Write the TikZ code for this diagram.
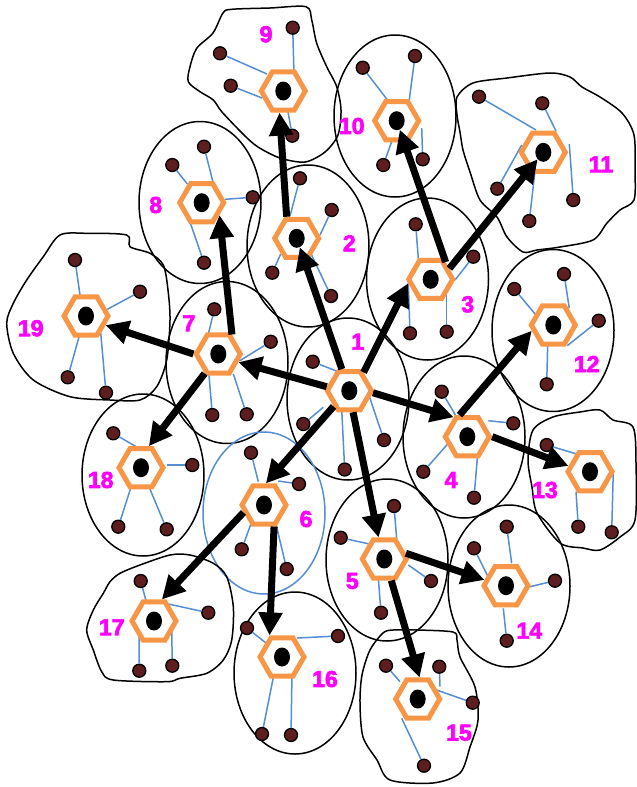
\documentclass[tikz,border=0pt]{standalone}
\usepackage{fontspec}
\newfontfamily\labfont{Liberation Sans}[BoldFeatures={FakeBold=3}]
\usetikzlibrary{shapes.geometric,arrows.meta}
\definecolor{hexor}{HTML}{F79646}
\definecolor{spokeb}{HTML}{558ED5}
\definecolor{dotred}{HTML}{5C1E1E}
\definecolor{labmag}{HTML}{FF00FF}
\tikzset{
 hexn/.style={regular polygon, regular polygon sides=6, minimum size=44pt, inner sep=0pt, draw=hexor, line width=5pt, fill=white},
 coren/.style={ellipse, fill=black, minimum width=16pt, minimum height=19pt, inner sep=0pt},
 dotn/.style={circle, fill=dotred, draw=black, line width=1.3pt, minimum size=13pt, inner sep=0pt},
 spoke/.style={draw=spokeb, line width=1.5pt},
 outl/.style={draw=black, line width=1.5pt},
 outlb/.style={draw=spokeb, line width=1.5pt},
 bigarrow/.style={draw=black, line width=7pt, -{Triangle[length=23pt,width=23pt]}},
 labn/.style={text=labmag, font=\labfont\bfseries\fontsize{23}{23}\selectfont, inner sep=0pt},
}
\newcommand\dotspoke[3]{\node[dotn] (#1) at (#2) {}; \coordinate (#1e) at (#3); \draw[spoke] (#1e) -- (#1);}
\begin{document}
\begin{tikzpicture}[x=1pt,y=-1pt]
\useasboundingbox (0,0) rectangle (637,787);
% ellipse outlines
\foreach \p in {{348,399},{308,246},{427.5,279},{464,437},{387,560},{509,586},{553,330.5},{227,362.5},{200,202.5},{395,116},{143,475},{295,673}}
  \draw[outl] (\p) ellipse [x radius=61pt, y radius=81pt];
\draw[outlb] (264,513) ellipse [x radius=61pt, y radius=81pt];
% irregular outlines
\draw[outl] plot[smooth cycle, tension=0.5] coordinates {(231.7,9.3) (270,8) (306,6.7) (311.7,20) (316.7,43.3) (326.7,66.7) (336.7,86.7) (341,110) (338,135) (325,152) (305,162) (280,158) (258,147) (244,135) (222,112) (213.3,100) (200,91.7) (188.3,81.7) (190,66.7) (196.7,48.3) (213,33) (223,13)};
\draw[outl] plot[smooth cycle, tension=0.5] coordinates {(457,97) (473,83) (507,78) (550,73) (570,77) (582,87) (600,97) (622,113) (634,135) (635,170) (634,200) (620,210) (607,223) (593,240) (560,247) (537,250) (523,252) (507,237) (497,217) (480,200) (470,172) (463,150) (460,132) (457,115)};
\draw[outl] plot[smooth cycle, tension=0.5] coordinates {(533,430) (553,417) (580,412) (600,410) (613,420) (633,427) (636,463) (635,520) (620,537) (600,550) (583,548) (560,543) (537,513) (532,487) (528,460)};
\draw[outl] plot[smooth cycle, tension=0.5] coordinates {(370,650) (383,633) (393,630) (417,630) (453,632) (457,640) (460,657) (475,687) (478,720) (470,747) (460,773) (433,783) (390,780) (377,760) (363,737) (360,703) (362,675)};
\draw[outl] plot[smooth cycle, tension=0.5] coordinates {(120,573.3) (140,565) (170,555) (190,555) (213.3,563.3) (226.7,576.7) (233.3,606.7) (231.7,640) (223.3,660) (206.7,673.3) (180,678.3) (166.7,681.7) (113.3,680) (101.7,671.7) (93.3,650) (86.7,630) (93.3,610) (103.3,593.3) (110,581.7)};
\draw[outl] plot[smooth cycle, tension=0.5] coordinates {(60,235) (86.7,233.3) (126.7,235) (130,246.7) (150,253.3) (163.3,265) (168,290) (170,320) (166.7,360) (156.7,386.7) (140,400) (110,400) (70,396.7) (33.3,380) (13.3,353.3) (6.7,323.3) (13.3,303.3) (26.7,280) (43.3,256.7)};
% dots and spokes
\dotspoke{d9a}{292.7,27.7}{294,74}
\dotspoke{d9b}{220,53.3}{267,74}
\dotspoke{d9c}{230.7,85.7}{262,98}
\dotspoke{d9d}{292.3,135.7}{288,112}
\dotspoke{d10a}{362.7,67.7}{389,102}
\dotspoke{d10b}{415,56}{409,102}
\dotspoke{d10c}{383.3,165}{393,138}
\dotspoke{d10d}{422.7,159.3}{421.7,128}
\dotspoke{d11a}{479,96.7}{536,130}
\dotspoke{d11b}{542.3,103.3}{556,131}
\dotspoke{d11c}{497.3,188.7}{521.7,145}
\dotspoke{d11d}{529.3,221}{535,171}
\dotspoke{d11e}{573.3,200}{569.3,144}
\dotspoke{d8a}{172.3,165}{187.3,184}
\dotspoke{d8b}{204,146.7}{213.3,183.3}
\dotspoke{d8c}{252.7,197.3}{225,199.3}
\dotspoke{d8d}{204,262.7}{189.3,220}
\dotspoke{d2a}{300,178.3}{290,216}
\dotspoke{d2b}{331.7,210}{320,235}
\dotspoke{d2c}{272.3,272.7}{280.7,254}
\dotspoke{d2d}{331,296}{310,251.7}
\dotspoke{d3a}{415.7,224.3}{418.3,258.3}
\dotspoke{d3b}{473.3,256.7}{455,280}
\dotspoke{d3c}{410,333.3}{408.3,282.7}
\dotspoke{d3d}{446.7,331.7}{446.7,293.3}
\dotspoke{d12a}{514.3,289}{536.7,316}
\dotspoke{d12b}{564,274}{569.3,308.3}
\dotspoke{d12c}{598.7,320.7}{567.3,345.7}
\dotspoke{d12d}{546.7,384.3}{547.7,344}
\dotspoke{d7a}{214.3,309.3}{207.3,338.3}
\dotspoke{d7b}{270.7,341.7}{239.3,361}
\dotspoke{d7c}{212.3,415}{209,375}
\dotspoke{d7d}{246.7,414.3}{233.3,374}
\dotspoke{d1a}{312.7,361.7}{340.7,372.7}
\dotspoke{d1b}{303.3,424}{323.3,407.3}
\dotspoke{d1c}{384,440}{368.3,393.3}
\dotspoke{d1d}{344.7,469.5}{341.7,409.3}
\dotspoke{d6a}{251,452.7}{258.3,481.7}
\dotspoke{d6b}{299,484}{278.3,481}
\dotspoke{d6c}{241.7,549.3}{251.7,521.7}
\dotspoke{d6d}{286.7,569}{275,520}
\dotspoke{d18a}{113.3,433.3}{140,449}
\dotspoke{d18b}{192.3,465}{166.7,465}
\dotspoke{d18c}{118.3,526.7}{133.3,480}
\dotspoke{d18d}{166.7,529.3}{148.3,485}
\dotspoke{d19a}{75,260}{80,295}
\dotspoke{d19b}{140,291.7}{107.3,309.3}
\dotspoke{d19c}{67.7,377.3}{81.7,327.3}
\dotspoke{d19d}{106,392.7}{100.7,332.7}
\dotspoke{d4a}{441.7,391.7}{458.3,420}
\dotspoke{d4b}{513.3,423.3}{488.3,420.7}
\dotspoke{d4c}{423.3,471.7}{448.3,443.3}
\dotspoke{d4d}{474,497.7}{477.7,454}
\dotspoke{d13a}{546.7,445}{576.7,454}
\dotspoke{d13b}{578.3,526.7}{576,491.7}
\dotspoke{d13c}{611.7,532.3}{613.3,470}
\dotspoke{d5a}{394,506}{396.7,539.3}
\dotspoke{d5b}{340.7,537.7}{369.3,544}
\dotspoke{d5c}{431,581}{408.3,565}
\dotspoke{d5d}{381,612.7}{378.3,578.3}
\dotspoke{d14a}{506.7,526.7}{511.7,563.3}
\dotspoke{d14b}{474,548.3}{489.3,579.3}
\dotspoke{d14c}{555,580.7}{530,586.7}
\dotspoke{d14d}{506.7,640.7}{503.3,608.3}
\dotspoke{d15a}{386,665.7}{400,681.7}
\dotspoke{d15b}{439.3,666.7}{440,686.7}
\dotspoke{d15c}{472.7,702.7}{430,687.7}
\dotspoke{d15d}{424,765.7}{401.7,718.3}
\dotspoke{d16a}{247,628}{266,643}
\dotspoke{d16b}{338,636}{297,638}
\dotspoke{d16c}{262,734}{274,674}
\dotspoke{d16d}{291,735}{292,673}
\dotspoke{d17a}{140.7,581}{146.7,603.3}
\dotspoke{d17b}{208.3,612.7}{168.3,604}
\dotspoke{d17c}{139.3,670.7}{139,635}
\dotspoke{d17d}{172.3,665.7}{171.7,628.3}
% hexagons
\foreach \n/\p in {1/{349.3,390.7},2/{296.7,238.3},3/{430.7,279.3},4/{467.3,436.7},5/{384.3,559},6/{264,505},7/{218.3,354},8/{201.7,202.7},9/{283.3,91},10/{396.7,120.7},11/{543.3,152.3},12/{553.3,325},13/{590,471.7},14/{506,585.7},15/{417.7,699},16/{282,657},17/{154,621},18/{141,467.7},19/{86,316}}{
  \node[hexn] (h\n) at (\p) {};
  \node[coren] (c\n) at (h\n) {};
}
% arrows
\draw[bigarrow] (h1) -- (c2);
\draw[bigarrow] (h1.52) -- (h3.190);
\draw[bigarrow] (h1.-5) -- (h4.125);
\draw[bigarrow] (h1.-80) -- (h5.105);
\draw[bigarrow] (h1.-135) -- (h6.85);
\draw[bigarrow] (h1.170) -- (h7.-22);
\draw[bigarrow] (h2.115) -- (h9.-100);
\draw[bigarrow] (h3.49) -- (c10);
\draw[bigarrow] (h3.30) -- (c11);
\draw[bigarrow] (h4.110) -- (h12.195);
\draw[bigarrow] (h4.0) -- (h13.165);
\draw[bigarrow] (h5.15) -- (h14.165);
\draw[bigarrow] (h5.-72) -- (h15.85);
\draw[bigarrow] (h6.-65) -- (h16.120);
\draw[bigarrow] (h6.200) -- (h17.70);
\draw[bigarrow] (h7.55) -- (h8.-35);
\draw[bigarrow] (h7.-125) -- (h18.70);
\draw[bigarrow] (h7.180) -- (h19.-25);
% labels
\node[labn] (l1) at (357.7,341.7) {1};
\node[labn] (l2) at (349.3,243.3) {2};
\node[labn] (l3) at (467.7,304.3) {3};
\node[labn] (l4) at (451,480) {4};
\node[labn] (l5) at (352.3,581) {5};
\node[labn] (l6) at (306,519) {6};
\node[labn] (l7) at (189,323.3) {7};
\node[labn] (l8) at (155.7,205) {8};
\node[labn] (l9) at (266,34.3) {9};
\node[labn] (l10) at (351.7,126) {10};
\node[labn] (l11) at (601,164.3) {11};
\node[labn] (l12) at (586.7,364) {12};
\node[labn] (l13) at (545,490) {13};
\node[labn] (l14) at (529.3,630.7) {14};
\node[labn] (l15) at (459,732.7) {15};
\node[labn] (l16) at (325,679) {16};
\node[labn] (l17) at (111.7,627.3) {17};
\node[labn] (l18) at (100.7,480) {18};
\node[labn] (l19) at (30.7,328.3) {19};
\end{tikzpicture}
\end{document}
